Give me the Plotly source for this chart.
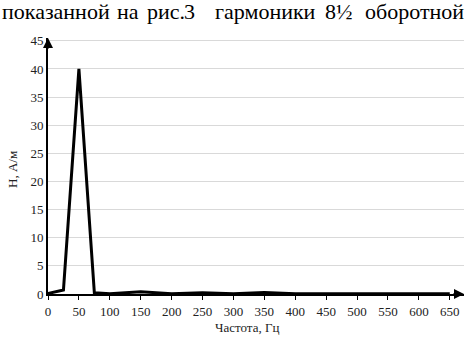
import plotly.graph_objects as go

freq = [0, 25, 50, 75, 100, 150, 200, 250, 300, 350, 400, 450, 500, 550, 600, 650]
h_val = [0.1, 0.7, 40.0, 0.2, 0.05, 0.4, 0.05, 0.2, 0.05, 0.25, 0.05, 0.05, 0.05, 0.05, 0.05, 0.05]
x_ticks = list(range(0, 651, 50))
y_ticks = list(range(0, 46, 5))

header_words = ["показанной", "на", "рис.", "3", "гармоники", "8½", "оборотной"]
header_left_px = [0, 115, 145, 182, 213, 323, 363]

FONT = "'Liberation Serif', 'Times New Roman', Tinos, Times, 'DejaVu Serif', serif"
W, H = 470, 338
ML, MR, MT, MB = 48, 6, 38, 44
PW, PH = W - ML - MR, H - MT - MB


def px_x(px):
    return (px - ML) / PW


def px_y(py):
    return (H - MB - py) / PH


annotations = [
    dict(xref="paper", yref="paper", x=1.0, y=0, ax=-12, ay=0, text="",
         showarrow=True, arrowhead=2, arrowsize=1, arrowwidth=2, arrowcolor="black"),
    dict(xref="paper", yref="paper", x=0, y=1.0, ax=0, ay=12, text="",
         showarrow=True, arrowhead=2, arrowsize=1, arrowwidth=2, arrowcolor="black"),
    dict(xref="paper", yref="paper", x=px_x(247), y=px_y(327), text="Частота, Гц",
         showarrow=False, xanchor="center", yanchor="middle",
         font=dict(family=FONT, size=13, color="#222")),
    dict(xref="paper", yref="paper", x=px_x(12), y=px_y(170), text="Н, А/м", textangle=-90,
         showarrow=False, xanchor="center", yanchor="middle",
         font=dict(family=FONT, size=13, color="#222")),
]
for word, left in zip(header_words, header_left_px):
    annotations.append(dict(xref="paper", yref="paper", x=px_x(left), y=px_y(11),
                            xanchor="left", yanchor="middle", text=word, showarrow=False,
                            font=dict(family=FONT, size=22, color="black")))

fig = go.Figure()
fig.add_trace(go.Scatter(x=freq, y=h_val, mode="lines",
                         line=dict(color="black", width=3), showlegend=False,
                         cliponaxis=False))

fig.update_layout(
    width=W, height=H,
    margin=dict(l=ML, r=MR, t=MT, b=MB, autoexpand=False),
    paper_bgcolor="white", plot_bgcolor="white",
    font=dict(family=FONT, size=13, color="#222"),
    xaxis=dict(range=[0, 673], tickvals=x_ticks, showgrid=False, zeroline=False,
               showline=True, linecolor="black", linewidth=2,
               ticks="outside", ticklen=4, tickcolor="black", tickwidth=1,
               tickfont=dict(family=FONT, size=13, color="#222"), automargin=False),
    yaxis=dict(range=[0, 45.5], tickvals=y_ticks, showgrid=True, gridcolor="#d9d9d9",
               gridwidth=1, zeroline=False, showline=True, linecolor="black", linewidth=2,
               ticks="", tickfont=dict(family=FONT, size=13, color="#222"), automargin=False),
    annotations=annotations,
)

fig.write_html("out.html", config={"displayModeBar": False},
               post_script="document.body.style.margin='0';document.body.style.padding='0';")
